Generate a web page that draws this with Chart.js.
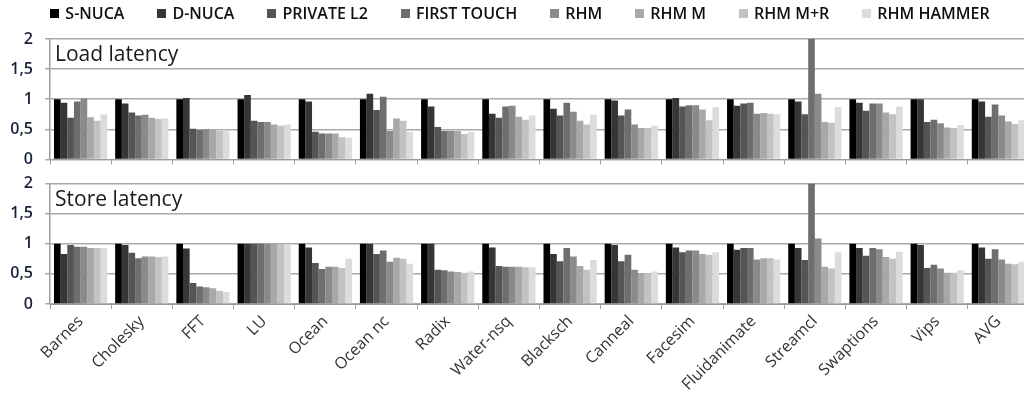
<!DOCTYPE html>
<html>
<head>
<meta charset="utf-8">
<script src="https://cdn.jsdelivr.net/npm/chart.js@4.4.1/dist/chart.umd.min.js"></script>
<style>
  html, body { margin: 0; padding: 0; background: #fff; overflow: hidden; }
  #wrap { position: relative; width: 1024px; height: 407px; overflow: hidden; }
  .pane { position: absolute; left: 0; }
  #loadPane { top: 0; }
  #storePane { top: 162px; }
  #legend {
    position: absolute; top: 3px; left: 0; width: 1040px; height: 20px;
    display: flex; justify-content: center; align-items: center; gap: 33px;
    font-family: "Open Sans", sans-serif; font-weight: 600; font-size: 16px; color: #111;
    white-space: nowrap;
  }
  #legend .item { display: inline-flex; align-items: center; }
  #legend .sw { width: 9px; height: 9px; margin-right: 6px; display: inline-block; }
</style>
</head>
<body>
<div id="wrap">
  <div class="pane" id="loadPane"><canvas id="loadChart" width="1032" height="181"></canvas></div>
  <div class="pane" id="storePane"><canvas id="storeChart" width="1032" height="245"></canvas></div>
  <div id="legend"></div>
</div>
<script>
// Benchmarks on the category axis
const benchmarks = ['Barnes', 'Cholesky', 'FFT', 'LU', 'Ocean', 'Ocean nc', 'Radix', 'Water-nsq',
  'Blacksch', 'Canneal', 'Facesim', 'Fluidanimate', 'Streamcl', 'Swaptions', 'Vips', 'AVG'];

// Cache organisations compared
const seriesNames = ['S-NUCA', 'D-NUCA', 'PRIVATE L2', 'FIRST TOUCH', 'RHM', 'RHM M', 'RHM M+R', 'RHM HAMMER'];
const seriesColors = ['#000000', '#363636', '#555555', '#6e6e6e', '#8a8a8a', '#a8a8a8', '#c2c2c2', '#dcdcdc'];

// Y axis ticks (normalised latency)
const yTicks = [0, 0.5, 1, 1.5, 2];

// Load latency, normalised to S-NUCA
const loadSNUCA      = [1, 1, 1, 1, 1, 1, 1, 1, 1, 1, 1, 1, 1, 1, 1, 1];
const loadDNUCA      = [0.94, 0.93, 1.02, 1.07, 0.96, 1.09, 0.88, 0.76, 0.84, 0.98, 1.02, 0.89, 0.96, 0.94, 1.00, 0.96];
const loadPrivateL2  = [0.69, 0.78, 0.51, 0.64, 0.46, 0.82, 0.54, 0.69, 0.73, 0.73, 0.88, 0.93, 0.75, 0.81, 0.62, 0.71];
const loadFirstTouch = [0.96, 0.73, 0.49, 0.62, 0.43, 1.04, 0.47, 0.88, 0.94, 0.83, 0.90, 0.94, 2.00, 0.93, 0.66, 0.91];
const loadRHM        = [1.01, 0.74, 0.50, 0.62, 0.43, 0.47, 0.47, 0.89, 0.79, 0.58, 0.90, 0.76, 1.09, 0.93, 0.60, 0.73];
const loadRHMM       = [0.70, 0.69, 0.50, 0.58, 0.43, 0.68, 0.47, 0.71, 0.64, 0.52, 0.83, 0.77, 0.62, 0.78, 0.53, 0.63];
const loadRHMMR      = [0.64, 0.67, 0.47, 0.56, 0.37, 0.64, 0.42, 0.66, 0.58, 0.52, 0.65, 0.76, 0.61, 0.75, 0.52, 0.59];
const loadRHMHammer  = [0.75, 0.68, 0.48, 0.58, 0.36, 0.46, 0.46, 0.73, 0.74, 0.56, 0.87, 0.75, 0.87, 0.88, 0.57, 0.65];

// Store latency, normalised to S-NUCA
const storeSNUCA      = [1, 1, 1, 1, 1, 1, 1, 1, 1, 1, 1, 1, 1, 1, 1, 1];
const storeDNUCA      = [0.83, 0.98, 0.92, 1.00, 0.94, 1.00, 1.00, 0.94, 0.83, 0.98, 0.94, 0.90, 0.93, 0.93, 0.98, 0.94];
const storePrivateL2  = [0.98, 0.85, 0.35, 1.00, 0.68, 0.83, 0.57, 0.63, 0.71, 0.71, 0.86, 0.93, 0.73, 0.80, 0.60, 0.75];
const storeFirstTouch = [0.95, 0.76, 0.29, 1.00, 0.58, 0.89, 0.56, 0.62, 0.93, 0.82, 0.89, 0.93, 2.00, 0.93, 0.65, 0.91];
const storeRHM        = [0.95, 0.79, 0.28, 1.00, 0.62, 0.70, 0.54, 0.62, 0.79, 0.57, 0.89, 0.74, 1.09, 0.91, 0.59, 0.74];
const storeRHMM       = [0.93, 0.79, 0.26, 1.00, 0.62, 0.77, 0.53, 0.62, 0.63, 0.51, 0.83, 0.76, 0.62, 0.78, 0.52, 0.67];
const storeRHMMR      = [0.93, 0.78, 0.22, 1.00, 0.60, 0.75, 0.52, 0.61, 0.57, 0.51, 0.82, 0.76, 0.59, 0.75, 0.52, 0.66];
const storeRHMHammer  = [0.93, 0.79, 0.20, 0.99, 0.75, 0.67, 0.54, 0.61, 0.73, 0.54, 0.86, 0.74, 0.86, 0.87, 0.56, 0.70];

const loadSeries  = [loadSNUCA, loadDNUCA, loadPrivateL2, loadFirstTouch, loadRHM, loadRHMM, loadRHMMR, loadRHMHammer];
const storeSeries = [storeSNUCA, storeDNUCA, storePrivateL2, storeFirstTouch, storeRHM, storeRHMM, storeRHMMR, storeRHMHammer];

const FONT = '"Open Sans", sans-serif';
const GRID = '#aaaaaa';
const AXIS = '#9c9c9c';

function makeDatasets(series) {
  return series.map((values, i) => ({
    label: seriesNames[i],
    data: values,
    backgroundColor: seriesColors[i],
    borderWidth: 0,
    categoryPercentage: 0.87,
    barPercentage: 1.0
  }));
}

// Panel title written in the top-left corner of the plot area
const panelTitle = {
  id: 'panelTitle',
  afterDraw(chart, args, opts) {
    const { ctx, chartArea } = chart;
    ctx.save();
    ctx.font = '21px ' + FONT;
    ctx.fillStyle = '#1a1a1a';
    ctx.textAlign = 'left';
    ctx.textBaseline = 'alphabetic';
    ctx.fillText(opts.text, chartArea.left + 5, chartArea.top + 22);
    ctx.restore();
  }
};

function makeOptions(title, showLabels, xHeight, padTop) {
  return {
    responsive: false,
    animation: false,
    devicePixelRatio: 1,
    layout: { padding: { top: padTop, right: 3, left: 0, bottom: 0 } },
    plugins: {
      legend: { display: false },
      tooltip: { enabled: false },
      panelTitle: { text: title }
    },
    scales: {
      x: {
        grid: { display: true, drawOnChartArea: false, drawTicks: true, tickLength: 5, offset: true, color: AXIS, lineWidth: 1 },
        border: { display: true, color: AXIS, width: 1 },
        ticks: {
          display: showLabels, autoSkip: false, maxRotation: 45, minRotation: 45,
          padding: 3, color: '#333', font: { family: FONT, size: 16 }
        },
        afterFit(scale) { scale.height = xHeight; }
      },
      y: {
        min: 0, max: 2,
        afterBuildTicks(scale) { scale.ticks = yTicks.map(v => ({ value: v })); },
        grid: { color: GRID, lineWidth: 1.5, drawTicks: true, tickLength: 5 },
        border: { display: true, color: AXIS, width: 1.5 },
        ticks: {
          padding: 12, color: '#18223a',
          font: { family: FONT, size: 16, weight: '600' },
          callback: v => String(v).replace('.', ',')
        },
        afterFit(scale) { scale.width = 50; }
      }
    }
  };
}

const loadChart = new Chart(document.getElementById('loadChart'), {
  type: 'bar',
  data: { labels: benchmarks, datasets: makeDatasets(loadSeries) },
  options: makeOptions('Load latency', false, 7, 39),
  plugins: [panelTitle]
});

const storeChart = new Chart(document.getElementById('storeChart'), {
  type: 'bar',
  data: { labels: benchmarks, datasets: makeDatasets(storeSeries) },
  options: makeOptions('Store latency', true, 103, 0),
  plugins: [panelTitle]
});

// Legend built from the first chart's datasets
const legendEl = document.getElementById('legend');
loadChart.data.datasets.forEach(ds => {
  const item = document.createElement('span');
  item.className = 'item';
  const sw = document.createElement('span');
  sw.className = 'sw';
  sw.style.background = ds.backgroundColor;
  const txt = document.createElement('span');
  txt.textContent = ds.label;
  item.appendChild(sw);
  item.appendChild(txt);
  legendEl.appendChild(item);
});
</script>
</body>
</html>
